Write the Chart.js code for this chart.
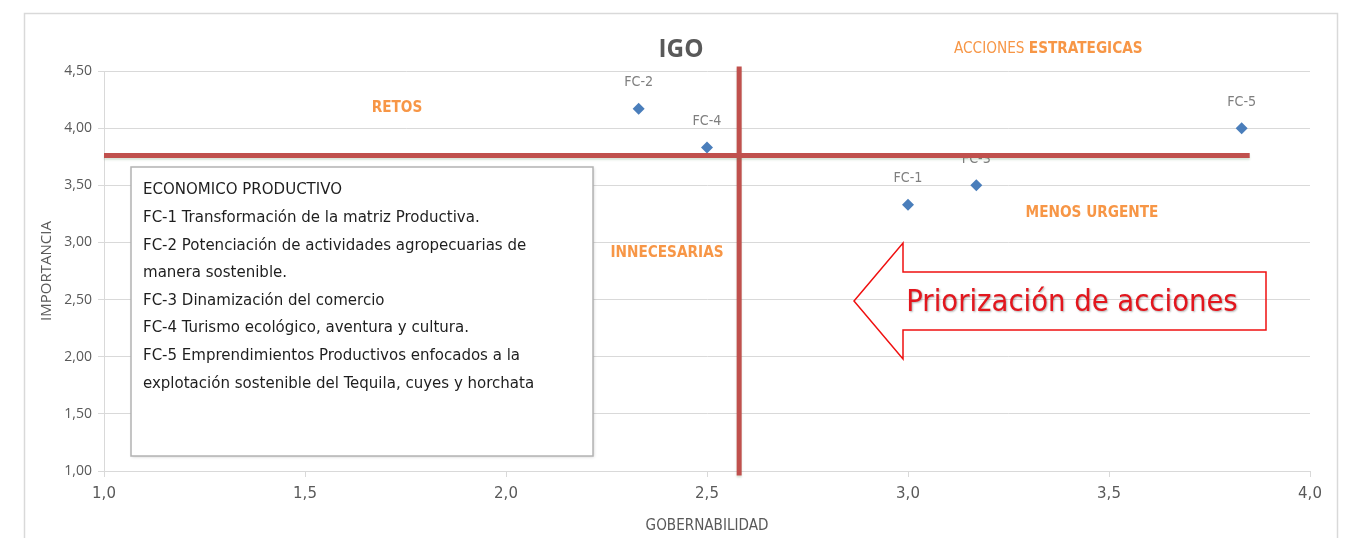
<!DOCTYPE html>
<html><head><meta charset="utf-8">
<script src="https://cdn.jsdelivr.net/npm/chart.js@4.4.1/dist/chart.umd.min.js"></script>
<style>html,body{margin:0;padding:0;background:#fff;}#wrap{width:1348px;height:538px;position:relative;}</style>
</head><body><div id="wrap"><canvas id="c" width="1348" height="538"></canvas></div>
<script>
// ---- data ----
const factorLabels = ['FC-1', 'FC-2', 'FC-3', 'FC-4', 'FC-5'];
const gobernabilidad = [3.00, 2.33, 3.17, 2.50, 3.83];
const importancia = [3.33, 4.17, 3.50, 3.83, 4.00];
const igoHorizX = [1.0, 3.85];
const igoHorizY = [3.76, 3.76];
const igoVertX = [2.58, 2.58];
const igoVertY = [4.54, 0.96];
const xTickValues = [1.0, 1.5, 2.0, 2.5, 3.0, 3.5, 4.0];
const yTickValues = [1.0, 1.5, 2.0, 2.5, 3.0, 3.5, 4.0, 4.5];
const legendLines = [
  'ECONOMICO PRODUCTIVO',
  'FC-1 Transformación de la matriz Productiva.',
  'FC-2 Potenciación de actividades agropecuarias de',
  'manera sostenible.',
  'FC-3 Dinamización del comercio',
  'FC-4 Turismo ecológico, aventura y cultura.',
  'FC-5 Emprendimientos Productivos enfocados a la',
  'explotación sostenible del Tequila, cuyes y horchata'
];
const chartTitle = 'IGO';
const arrowText = 'Priorización de acciones';
const xTitle = 'GOBERNABILIDAD';
const yTitle = 'IMPORTANCIA';

// ---- fonts ----
const NARROW = "'Liberation Sans Narrow','DejaVu Sans Condensed','Arial Narrow',sans-serif";
const mctx = document.createElement('canvas').getContext('2d');
function fitSize(text, family, weight, target) {
  mctx.font = weight + ' 100px ' + family;
  const w = mctx.measureText(text).width;
  return Math.round(1000 * target / w) / 10;
}
const legendSize = fitSize(legendLines[2], NARROW, 'normal', 384);
const arrowSize = fitSize(arrowText, NARROW, 'normal', 331);
const quadSize = fitSize('MENOS URGENTE', NARROW, 'bold', 133);
const ptLabelSize = fitSize('FC-2', NARROW, 'normal', 29);
const xTitleSize = fitSize(xTitle, NARROW, 'normal', 123);
const titleSize = fitSize(chartTitle, "'Open Sans',sans-serif", 'bold', 45);

const ORANGE = '#f79646';
const GRAY = '#595959';

const annot = {
  id: 'annot',
  beforeDraw(chart) {
    const ctx = chart.ctx;
    ctx.save();
    ctx.fillStyle = '#fff';
    ctx.fillRect(0, 0, chart.width, chart.height);
    ctx.strokeStyle = '#d9d9d9';
    ctx.lineWidth = 1.5;
    ctx.strokeRect(24.5, 13.5, 1313, 540);
    ctx.restore();
  },
  beforeDatasetDraw(chart, args) {
    if (args.index === 0) return;
    const ctx = chart.ctx;
    ctx.save();
    ctx.shadowColor = 'rgba(80,130,80,0.22)';
    ctx.shadowBlur = 2;
    ctx.shadowOffsetY = 2;
    ctx.shadowOffsetX = 0;
  },
  afterDatasetDraw(chart, args) {
    const ctx = chart.ctx;
    if (args.index !== 0) { ctx.restore(); return; }
    const meta = chart.getDatasetMeta(0);
    ctx.save();
    ctx.fillStyle = '#7f7f7f';
    ctx.font = 'normal ' + ptLabelSize + 'px ' + NARROW;
    ctx.textAlign = 'center';
    ctx.textBaseline = 'middle';
    meta.data.forEach((el, i) => {
      ctx.fillText(factorLabels[i], el.x, el.y - 26);
    });
    ctx.restore();
  },
  afterDraw(chart) {
    const ctx = chart.ctx;
    ctx.save();
    // title
    ctx.fillStyle = GRAY;
    ctx.font = 'bold ' + titleSize + "px 'Open Sans',sans-serif";
    ctx.textAlign = 'center';
    ctx.textBaseline = 'middle';
    ctx.fillText(chartTitle, 681, 50);

    // quadrant labels
    ctx.fillStyle = ORANGE;
    ctx.font = 'bold ' + quadSize + 'px ' + NARROW;
    ctx.fillText('RETOS', 397, 108);
    ctx.fillText('MENOS URGENTE', 1092, 213);
    ctx.fillText('INNECESARIAS', 667, 253);
    ctx.textAlign = 'left';
    ctx.font = 'normal ' + quadSize + 'px ' + NARROW;
    ctx.fillText('ACCIONES', 954, 49);
    const accW = ctx.measureText('ACCIONES ').width;
    ctx.font = 'bold ' + quadSize + 'px ' + NARROW;
    ctx.fillText('ESTRATEGICAS', 954 + accW, 49);

    // legend box
    ctx.save();
    ctx.shadowColor = 'rgba(0,0,0,0.18)';
    ctx.shadowBlur = 3;
    ctx.shadowOffsetX = 1;
    ctx.shadowOffsetY = 1;
    ctx.fillStyle = '#fff';
    ctx.fillRect(131, 167, 462, 289);
    ctx.restore();
    ctx.strokeStyle = '#b3b3b3';
    ctx.lineWidth = 1.5;
    ctx.strokeRect(131, 167, 462, 289);
    ctx.fillStyle = '#1e1e1e';
    ctx.font = 'normal ' + legendSize + 'px ' + NARROW;
    ctx.textAlign = 'left';
    ctx.textBaseline = 'middle';
    legendLines.forEach((t, i) => ctx.fillText(t, 143, 190 + i * 27.6));

    // arrow
    ctx.beginPath();
    ctx.moveTo(854, 301);
    ctx.lineTo(903, 243);
    ctx.lineTo(903, 272);
    ctx.lineTo(1266, 272);
    ctx.lineTo(1266, 330);
    ctx.lineTo(903, 330);
    ctx.lineTo(903, 359);
    ctx.closePath();
    ctx.strokeStyle = '#f01010';
    ctx.lineWidth = 1.5;
    ctx.stroke();
    ctx.save();
    ctx.shadowColor = 'rgba(0,0,0,0.3)';
    ctx.shadowBlur = 2;
    ctx.shadowOffsetX = 1;
    ctx.shadowOffsetY = 1;
    ctx.fillStyle = '#e3161d';
    ctx.font = 'normal ' + arrowSize + 'px ' + NARROW;
    ctx.textAlign = 'center';
    ctx.fillText(arrowText, 1072, 303);
    ctx.restore();
    ctx.restore();
  }
};

const toPts = (xs, ys) => xs.map((x, i) => ({ x: x, y: ys[i] }));

new Chart(document.getElementById('c'), {
  type: 'scatter',
  data: {
    datasets: [
      {
        label: 'Factores',
        data: toPts(gobernabilidad, importancia),
        pointStyle: 'rectRot',
        pointRadius: 6,
        pointHoverRadius: 6,
        backgroundColor: '#4a7ebb',
        borderColor: '#4a7ebb',
        borderWidth: 0,
        order: 3
      },
      {
        label: 'IGO importancia',
        data: toPts(igoHorizX, igoHorizY),
        showLine: true,
        pointRadius: 0,
        borderColor: '#c0504d',
        borderWidth: 5,
        clip: false,
        order: 1
      },
      {
        label: 'IGO gobernabilidad',
        data: toPts(igoVertX, igoVertY),
        showLine: true,
        pointRadius: 0,
        borderColor: '#c0504d',
        borderWidth: 5,
        clip: false,
        order: 1
      }
    ]
  },
  options: {
    responsive: false,
    animation: false,
    devicePixelRatio: 1,
    layout: { autoPadding: false, padding: { left: 30, right: 38, top: 71, bottom: 0 } },
    plugins: { legend: { display: false }, tooltip: { enabled: false } },
    scales: {
      x: {
        type: 'linear', min: 1, max: 4,
        afterFit: s => { s.height = 67; },
        afterBuildTicks: s => { s.ticks = xTickValues.map(v => ({ value: v })); },
        grid: { drawOnChartArea: false, drawTicks: true, tickLength: 6, color: '#d9d9d9', tickColor: '#d9d9d9' },
        border: { display: true, color: '#d9d9d9', width: 1 },
        ticks: { padding: 8, color: GRAY, font: { family: "'DejaVu Sans',sans-serif", size: 15 },
          callback: v => Number(v).toFixed(1).replace('.', ',') },
        title: { display: true, text: xTitle, color: GRAY, padding: { top: 0, bottom: 3 },
          font: { family: NARROW, size: xTitleSize } }
      },
      y: {
        type: 'linear', min: 1, max: 4.5,
        afterFit: s => { s.width = 74; },
        afterBuildTicks: s => { s.ticks = yTickValues.map(v => ({ value: v })); },
        grid: { drawTicks: true, tickLength: 6, color: '#d9d9d9', tickColor: '#d9d9d9' },
        border: { display: true, color: '#d9d9d9', width: 1 },
        ticks: { padding: 6, color: GRAY, font: { family: "'Open Sans',sans-serif", size: 14 },
          callback: v => Number(v).toFixed(2).replace('.', ',') },
        title: { display: true, text: yTitle, color: GRAY, padding: { top: 8, bottom: 0 },
          font: { family: "'Open Sans',sans-serif", size: 15 } }
      }
    }
  },
  plugins: [annot]
});
</script></body></html>
